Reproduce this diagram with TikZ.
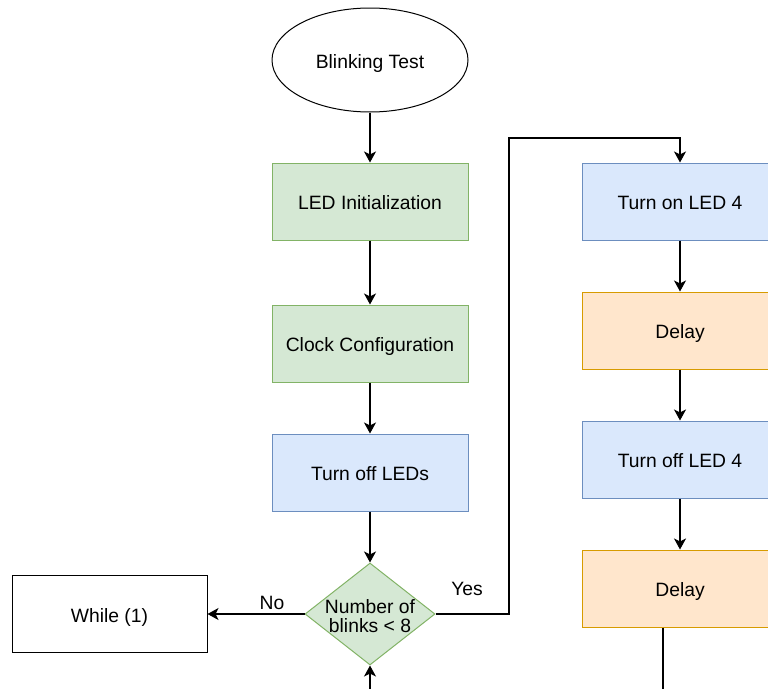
\documentclass[tikz,border=0pt]{standalone}
\usepackage{fontspec}
\setmainfont{Liberation Sans}
\usetikzlibrary{shapes.geometric,arrows.meta}
\definecolor{gfill}{HTML}{D5E8D4}\definecolor{gline}{HTML}{82B366}
\definecolor{bfill}{HTML}{DAE8FC}\definecolor{bline}{HTML}{6C8EBF}
\definecolor{ofill}{HTML}{FFE6CC}\definecolor{oline}{HTML}{D79B00}
\tikzset{
  box/.style={rectangle,draw,line width=1pt,minimum width=196pt,minimum height=77pt,inner sep=0pt,align=center,text height=20pt,text depth=4pt},
  greenbox/.style={box,fill=gfill,draw=gline},
  bluebox/.style={box,fill=bfill,draw=bline},
  orangebox/.style={box,fill=ofill,draw=oline},
  plainbox/.style={box,draw=black},
  flow/.style={line width=1.2pt,-{Stealth[length=11pt,width=12pt,inset=3pt]}},
  lbl/.style={inner sep=0pt}
}
\begin{document}
\begin{tikzpicture}[x=1pt,y=-1pt,every node/.style={font=\fontsize{19.3}{22}\selectfont}]
\useasboundingbox (0,0) rectangle (768,688);
\clip (0,0) rectangle (768,688);
% start terminal
\node[ellipse,draw,line width=1pt,minimum width=196pt,minimum height=104pt,inner sep=0pt,text height=20pt,text depth=4pt] (start) at (370,60) {Blinking Test};
% main column
\node[greenbox] (init) at (370,201.5) {LED Initialization};
\node[greenbox] (clk) at (370,343.5) {Clock Configuration};
\node[bluebox] (off) at (370,472.5) {Turn off LEDs};
\node[diamond,draw=gline,fill=gfill,line width=1pt,minimum width=130pt,minimum height=102pt,inner sep=0pt] (dec) at (370,614) {};
\node[lbl,align=center,yshift=-2pt] (dectext) at (dec.center) {Number of\\[-3pt]blinks {<} 8};
\node[plainbox,minimum width=195pt] (loop) at (109.5,614) {While (1)};
% blink column
\node[bluebox] (on4) at (680,201.5) {Turn on LED 4};
\node[orangebox] (d1) at (680,330.5) {Delay};
\node[bluebox] (off4) at (680,459.5) {Turn off LED 4};
\node[orangebox] (d2) at (680,588.5) {Delay};
\coordinate (back) at (370,700);
\coordinate (ret) at (663,700);
% connectors
\draw[flow] (start) -- (init);
\draw[flow] (init) -- (clk);
\draw[flow] (clk) -- (off);
\draw[flow] (off) -- (dec);
\draw[flow] (dec.west) -- (dec.west -| loop.east);
\node[lbl] (no) at (272,603) {No};
\draw[flow] (dec.east) -- (509,614) -- (509,138) -- (680,138) -- (on4.north);
\node[lbl] (yes) at (467,589) {Yes};
\draw[flow] (on4) -- (d1);
\draw[flow] (d1) -- (off4);
\draw[flow] (off4) -- (d2);
\draw[line width=1.2pt] (d2.south -| ret) -- (ret);
\draw[flow] (back) -- (dec.south);
\end{tikzpicture}
\end{document}
